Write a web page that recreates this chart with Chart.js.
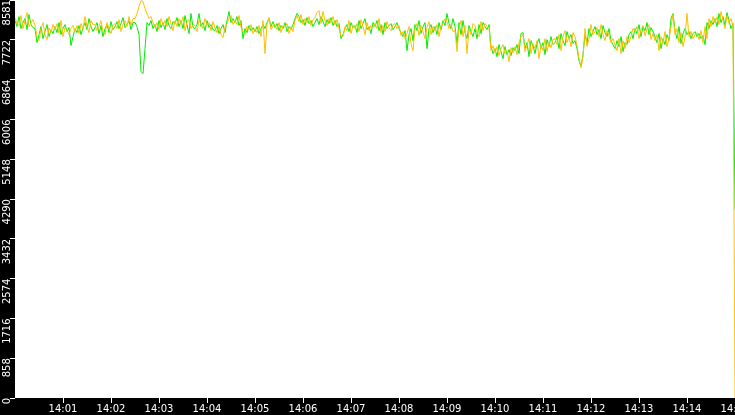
<!DOCTYPE html>
<html>
<head>
<meta charset="utf-8">
<script src="https://cdn.jsdelivr.net/npm/chart.js@4/dist/chart.umd.min.js"></script>
<style>
  html, body { margin: 0; padding: 0; background: #000; }
  #wrap { width: 735px; height: 415px; }
</style>
</head>
<body>
<div id="wrap"><canvas id="mycanvas" width="735" height="415"></canvas></div>
<script>
// one sample every 2.5 seconds, starting at 14:00
var sampleSeconds = 2.5;

var xTickLabels = ['14:01','14:02','14:03','14:04','14:05','14:06','14:07','14:08',
                   '14:09','14:10','14:11','14:12','14:13','14:14','14:15'];
var yTickValues = [0, 858, 1716, 2574, 3432, 4290, 5148, 6006, 6864, 7722, 8581];

var green = [
  8138,8008,8224,7965,8094,8181,7943,8267,8051,7986,
  7965,7662,7835,8008,7749,7900,8051,7792,7943,7857,
  8008,7878,8094,7835,7965,8051,7900,7986,7597,7792,
  7965,7878,8030,7835,7986,8094,7943,8181,8008,7900,
  7986,8094,7857,8030,7792,7965,8051,7878,8116,7943,
  8008,8116,7965,8073,8202,7986,8051,8138,7943,8094,
  8094,8008,7835,7036,6992,7533,8094,8030,8138,7965,
  8051,7900,8138,7986,8094,7943,8181,8030,7965,8116,
  8073,8202,8008,8138,7965,8246,8051,7857,8289,7986,
  7965,8051,8289,8008,8094,7921,8138,7986,8051,7943,
  7921,8030,7857,7965,8051,7878,8138,8332,8094,8181,
  8094,8224,8030,8138,7749,7965,7878,8030,7921,7986,
  7900,8008,7857,7965,8051,7965,8094,8181,8008,8116,
  7986,8073,7921,8030,7965,8094,7900,8008,7943,8051,
  8181,8289,8224,8094,8159,8030,8202,8073,8138,8008,
  8094,8181,8051,8224,8116,8008,8159,8073,8202,8030,
  8138,8008,8073,7749,7835,7965,8051,7900,8094,7986,
  8030,7878,8138,7965,8073,8181,7943,8008,7857,8094,
  8008,8138,7921,8051,7835,8094,7965,8030,8073,7943,
  8008,8094,7965,7878,7792,7921,7489,7835,7965,7705,
  8051,7921,8138,7857,8008,8094,7533,7965,8051,7878,
  8008,7835,8094,7943,8138,8030,8289,8073,7965,8181,
  8008,7641,8094,7835,8138,7878,7749,8030,7900,7792,
  7965,7749,8051,7857,8094,8008,7943,8051,7576,7425,
  7533,7360,7619,7468,7316,7576,7403,7511,7381,7554,
  7489,7619,7425,7857,7878,7533,7662,7360,7705,7597,
  7425,7641,7749,7533,7662,7403,7727,7576,7792,7619,
  7662,7792,7533,7857,7705,7597,7900,7749,7835,7641,
  7705,7533,7273,7144,7403,7835,7641,7965,7792,7900,
  8008,7835,7943,7749,8030,7878,7792,7965,7705,7619,
  7533,7705,7576,7792,7468,7662,7619,7835,7900,7749,
  7965,7857,8051,7792,8008,7921,8094,7835,7986,7900,
  7792,7662,7857,7533,7749,7619,7835,7705,8181,8289,
  7921,7749,8008,7641,7857,7965,7835,7900,7749,7857,
  7900,7792,7857,7749,7813,7619,8094,7965,8138,8051,
  8181,8008,8289,8094,8224,8030,8310,8138,7965,8073,
  4050
];

var orange = [
  8202,8073,8030,8246,7965,8138,8310,8008,8094,8159,
  8030,7792,7705,7965,8094,7835,7727,7986,7878,8051,
  7943,8073,7857,8138,7792,7986,7921,7835,7965,8030,
  7900,8030,7857,8073,7943,8224,8008,7878,8138,8051,
  8051,7921,8008,8138,7900,7835,8094,7965,7857,8030,
  8073,7965,8159,7900,8051,8138,8008,8224,8030,8181,
  8181,8289,8440,8570,8548,8397,8289,8181,8224,8094,
  7986,8094,7943,8181,8030,8138,8008,8224,8073,7921,
  8138,8008,8181,8051,8224,7921,8094,8159,7965,8051,
  8030,7900,8138,8073,7965,8181,8030,8094,7921,8116,
  7986,7878,8008,7835,7770,8008,8073,8181,8246,8051,
  8138,8051,8246,7986,7900,7835,8008,7943,8051,7857,
  7965,7878,8030,7792,8138,7425,8051,8202,7943,8030,
  8051,7943,8094,7878,8030,7986,8073,7857,8008,7900,
  8138,8246,8116,8267,8051,8181,8094,8224,8030,8159,
  8202,8310,8354,8073,8332,8138,8030,8181,8094,8224,
  8051,8159,7965,7813,7792,8008,7921,8138,7857,8030,
  7965,8073,7900,8159,8008,7835,8094,7921,8030,7986,
  8073,7965,8181,7878,8030,7900,8116,7986,7921,8051,
  8073,7965,8030,7813,7900,7749,7857,8008,7641,7489,
  7965,8073,7813,8030,7900,7749,7986,8116,7835,8008,
  7921,8051,7792,8008,8073,8181,8116,7965,8051,7900,
  7921,7468,7965,8138,7792,8030,7425,7965,7835,8073,
  8030,7878,7792,8116,7921,8073,8008,7965,7489,7597,
  7446,7576,7381,7533,7619,7425,7489,7252,7554,7446,
  7576,7403,7662,7792,7835,7468,7597,7749,7425,7641,
  7533,7705,7316,7619,7489,7749,7468,7662,7554,7727,
  7749,7619,7835,7489,7792,7921,7662,7792,7576,7878,
  7792,7597,7316,7122,7360,7965,7576,7749,8051,7835,
  7900,7986,7792,8051,7835,7705,7921,7813,7662,7749,
  7619,7489,7749,7425,7705,7533,7792,7662,7792,7965,
  7900,8008,7749,7943,8030,7813,7965,8051,7727,7857,
  7705,7835,7489,7792,7641,7900,7576,7749,8008,8267,
  7835,7965,7662,7878,7576,7792,8289,7792,7900,7749,
  7835,7878,7727,7921,7662,8008,7749,8181,8008,8224,
  8094,8224,8051,8332,8138,7965,8246,8073,8181,8008,
  0
];

function toPoints(arr) {
  var pts = [];
  for (var i = 0; i < arr.length; i++) {
    pts.push({x: i * sampleSeconds, y: arr[i]});
  }
  return pts;
}

var plotBg = {
  id: 'plotBg',
  beforeDraw: function(chart) {
    var c = chart.ctx, a = chart.chartArea;
    c.save();
    c.fillStyle = '#000';
    c.fillRect(0, 0, chart.width, chart.height);
    c.fillStyle = '#fff';
    c.fillRect(a.left, a.top, a.right - a.left, a.bottom - a.top);
    c.restore();
  }
};

var chartdata = {
  datasets: [
    {
      label: "B",
      data: toPoints(orange),
      borderColor: "#ffbf00",
      borderWidth: 1,
      pointRadius: 0,
      fill: false,
      tension: 0
    },
    {
      label: "A",
      data: toPoints(green),
      borderColor: "#00ee00",
      borderWidth: 1,
      pointRadius: 0,
      fill: false,
      tension: 0
    }
  ]
};

var ctx = document.getElementById('mycanvas');

var LineGraph = new Chart(ctx, {
  type: 'line',
  data: chartdata,
  plugins: [plotBg],
  options: {
    responsive: false,
    animation: false,
    devicePixelRatio: 1,
    layout: { padding: 0 },
    plugins: { legend: { display: false }, tooltip: { enabled: false } },
    scales: {
      x: {
        type: 'linear',
        min: 0,
        max: xTickLabels.length * 60,
        border: { display: false },
        grid: { drawOnChartArea: false, tickColor: '#fff', tickLength: 5, tickWidth: 1 },
        ticks: {
          color: '#fff',
          padding: 0,
          maxRotation: 0,
          autoSkip: false,
          font: { family: 'DejaVu Sans', size: 10, lineHeight: 1.2 },
          callback: function(v, i) { return xTickLabels[i]; }
        },
        afterBuildTicks: function(scale) {
          scale.ticks = xTickLabels.map(function(l, k) { return {value: (k + 1) * 60}; });
        },
        afterFit: function(scale) {
          scale.height = 17;
          scale.paddingLeft = 0;
          scale.paddingRight = 0;
        }
      },
      y: {
        min: 0,
        max: yTickValues[yTickValues.length - 1],
        border: { display: false },
        grid: { drawOnChartArea: false, tickColor: '#fff', tickLength: 5, tickWidth: 1 },
        ticks: {
          color: '#fff',
          padding: 3,
          minRotation: 90,
          maxRotation: 90,
          autoSkip: false,
          font: { family: 'DejaVu Sans', size: 10, lineHeight: 1 },
          callback: function(v) { return String(v); }
        },
        afterBuildTicks: function(scale) {
          scale.ticks = yTickValues.map(function(v) { return {value: v}; });
        },
        afterFit: function(scale) {
          scale.width = 15;
          scale.paddingTop = 0;
          scale.paddingBottom = 0;
        }
      }
    }
  }
});
</script>
</body>
</html>
